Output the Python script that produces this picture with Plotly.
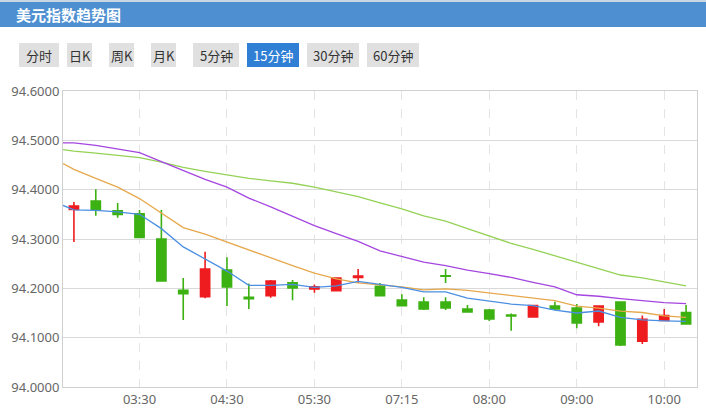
import plotly.graph_objects as go

# ---- data ----
times = ["02:45", "03:00", "03:15", "03:30", "03:45", "04:00", "04:15", "04:30",
         "04:45", "05:00", "05:15", "05:30", "05:45", "06:15", "06:45", "07:15",
         "07:30", "07:40", "07:50", "08:00", "08:15", "08:30", "08:45", "09:00",
         "09:15", "09:30", "09:45", "10:00", "10:15"]
tick_labels = ["03:30", "04:30", "05:30", "07:15", "08:00", "09:00", "10:00"]

open_ = [94.360, 94.377, 94.357, 94.351, 94.300, 94.196, 94.183, 94.237, 94.182, 94.185,
         94.211, 94.199, 94.195, 94.222, 94.204, 94.176, 94.172, 94.172, 94.158, 94.156,
         94.146, 94.142, 94.164, 94.160, 94.132, 94.172, 94.093, 94.135, 94.151]
close = [94.367, 94.360, 94.350, 94.303, 94.215, 94.189, 94.239, 94.203, 94.179, 94.215,
         94.201, 94.203, 94.221, 94.225, 94.185, 94.165, 94.158, 94.160, 94.152, 94.138,
         94.144, 94.165, 94.158, 94.130, 94.164, 94.085, 94.137, 94.145, 94.128]
high = [94.375, 94.401, 94.373, 94.359, 94.359, 94.221, 94.274, 94.263, 94.210, 94.217,
        94.217, 94.208, 94.222, 94.239, 94.211, 94.188, 94.182, 94.182, 94.166, 94.158,
        94.149, 94.165, 94.173, 94.168, 94.164, 94.172, 94.145, 94.158, 94.166]
low = [94.294, 94.347, 94.343, 94.303, 94.215, 94.136, 94.180, 94.164, 94.158, 94.181,
       94.176, 94.191, 94.195, 94.211, 94.185, 94.165, 94.156, 94.156, 94.152, 94.134,
       94.114, 94.142, 94.156, 94.119, 94.123, 94.083, 94.087, 94.135, 94.128]

# extra stray candle drawn over 07:40
extra_time = ["07:40"]
extra_open = [94.2256]
extra_close = [94.2244]
extra_high = [94.239]
extra_low = [94.211]

# moving averages: first value sits at the left plot edge, then one per candle
ma5 = [94.368, 94.359, 94.358, 94.355, 94.350, 94.321, 94.284, 94.259, 94.235, 94.206,
       94.206, 94.208, 94.202, 94.205, 94.214, 94.208, 94.202, 94.193, 94.193, 94.180,
       94.174, 94.168, 94.165, 94.156, 94.150, 94.154, 94.141, 94.136, 94.134, 94.133]
ma10 = [94.453, 94.441, 94.423, 94.405, 94.382, 94.352, 94.323, 94.310, 94.294, 94.277,
        94.262, 94.246, 94.231, 94.219, 94.211, 94.207, 94.203, 94.197, 94.199, 94.196,
        94.191, 94.186, 94.181, 94.175, 94.164, 94.160, 94.154, 94.151, 94.144, 94.141]
ma20 = [94.495, 94.495, 94.490, 94.483, 94.475, 94.457, 94.439, 94.421, 94.405, 94.383,
        94.365, 94.346, 94.327, 94.311, 94.295, 94.276, 94.264, 94.253, 94.246, 94.237,
        94.230, 94.222, 94.212, 94.203, 94.187, 94.184, 94.179, 94.175, 94.171, 94.169]
ma30 = [94.481, 94.478, 94.474, 94.470, 94.465, 94.456, 94.445, 94.437, 94.430, 94.423,
        94.418, 94.413, 94.405, 94.396, 94.386, 94.373, 94.361, 94.347, 94.336, 94.321,
        94.306, 94.291, 94.279, 94.266, 94.252, 94.240, 94.227, 94.221, 94.213, 94.205]

buttons = ["分时", "日K", "周K", "月K", "5分钟", "15分钟", "30分钟", "60分钟"]
active_button = "15分钟"
title_text = "美元指数趋势图"

# ---- figure ----
W, H = 706, 418
L, R, T, B = 63, 9, 91, 31
PW, PH = W - L - R, H - T - B

def px(x):
    return (x - L) / PW

def py(y):
    return (H - B - y) / PH

n = len(times)
xi = list(range(n))
ma_x = [-0.5] + xi
RED, GREEN = "#ee1c1f", "#3cb112"

fig = go.Figure()
fig.add_trace(go.Candlestick(
    x=xi, open=open_, high=high, low=low, close=close,
    increasing=dict(line=dict(color=RED, width=1.6), fillcolor=RED),
    decreasing=dict(line=dict(color=GREEN, width=1.6), fillcolor=GREEN),
    showlegend=False, hoverinfo="skip"))
fig.add_trace(go.Candlestick(
    x=[times.index(t) for t in extra_time], open=extra_open, high=extra_high,
    low=extra_low, close=extra_close,
    increasing=dict(line=dict(color=RED, width=1.6), fillcolor=RED),
    decreasing=dict(line=dict(color=GREEN, width=1.6), fillcolor=GREEN),
    showlegend=False, hoverinfo="skip"))

for vals, col in [(ma30, "#94d256"), (ma20, "#a446e0"), (ma10, "#e6a84c"), (ma5, "#4b8fe2")]:
    fig.add_trace(go.Scatter(x=ma_x, y=vals, mode="lines",
                             line=dict(color=col, width=1.3),
                             showlegend=False, hoverinfo="skip"))

shapes = []
annotations = []
# header bar
shapes.append(dict(type="rect", xref="paper", yref="paper",
                   x0=px(0), x1=px(W), y0=py(27), y1=py(2),
                   fillcolor="#4e8fd1", line=dict(width=0), layer="above"))
shapes.append(dict(type="rect", xref="paper", yref="paper",
                   x0=px(0), x1=px(W), y0=py(2), y1=py(0),
                   fillcolor="#c9d6e4", line=dict(width=0), layer="above"))
annotations.append(dict(text="<b>" + title_text + "</b>", xref="paper", yref="paper",
                        x=px(14), y=py(14.5), xanchor="left", yanchor="middle",
                        showarrow=False,
                        font=dict(family="Noto Sans CJK SC", size=15, color="white")))
# buttons
bx = [(19, 59), (67, 92), (109, 134), (151, 176), (193, 239), (247, 299), (307, 359), (367, 419)]
for label, (x0, x1) in zip(buttons, bx):
    active = label == active_button
    shapes.append(dict(type="rect", xref="paper", yref="paper",
                       x0=px(x0), x1=px(x1), y0=py(67), y1=py(43),
                       fillcolor="#2f7fd5" if active else "#e0e0e0",
                       line=dict(width=0), layer="above"))
    annotations.append(dict(text=label, xref="paper", yref="paper",
                            x=px((x0 + x1) / 2), y=py(55.5), xanchor="center",
                            yanchor="middle", showarrow=False,
                            font=dict(family="Noto Sans CJK SC", size=13,
                                      color="white" if active else "#333333")))

fig.update_layout(
    width=W, height=H,
    margin=dict(l=L, r=R, t=T, b=B),
    paper_bgcolor="white", plot_bgcolor="white",
    boxgap=0.4,
    shapes=shapes, annotations=annotations,
    xaxis=dict(range=[-0.5, n - 0.5], rangeslider=dict(visible=False),
               tickmode="array", tickvals=[times.index(t) for t in tick_labels],
               ticktext=tick_labels, showgrid=True, gridcolor="#e4e4e4",
               griddash="dash", gridwidth=1, zeroline=False,
               showline=True, linecolor="#d0d0d0", mirror=True, ticks="",
               tickfont=dict(family="Noto Sans", size=13, color="#666666")),
    yaxis=dict(range=[94.0, 94.6], dtick=0.1, tick0=94.0, tickformat=".4f",
               showgrid=True, gridcolor="#d9d9d9", gridwidth=1, zeroline=False,
               showline=True, linecolor="#d0d0d0", mirror=True, ticks="",
               tickfont=dict(family="Noto Sans", size=13, color="#666666")),
)

fig.write_html("out.html", config={"displayModeBar": False},
               post_script="document.body.style.margin='0';document.body.style.padding='0';")
